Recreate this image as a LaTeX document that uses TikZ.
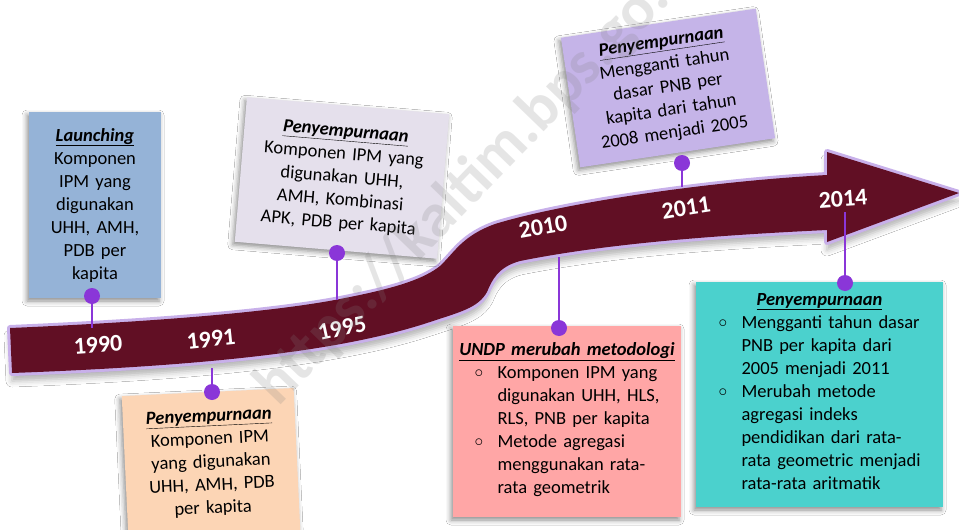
\documentclass[tikz,border=0pt]{standalone}
\usepackage{fontspec}
\setmainfont{Carlito}
\usetikzlibrary{shadows.blur}
\definecolor{ribc}{RGB}{97,15,36}
\definecolor{glowc}{RGB}{200,176,234}
\definecolor{dotc}{RGB}{138,54,216}
\definecolor{bluec}{RGB}{149,179,215}
\definecolor{lavc}{RGB}{229,224,236}
\definecolor{peachc}{RGB}{252,213,181}
\definecolor{pinkc}{RGB}{255,166,166}
\definecolor{tealc}{RGB}{75,209,205}
\definecolor{purpc}{RGB}{197,180,232}
\newcommand\bxfont{\fontsize{18.5}{23}\selectfont}
\newcommand\yrfont{\fontsize{24}{28}\selectfont\bfseries}
\newcommand\ttl[1]{\underline{\textbf{\textit{#1}}}}
\newcommand\bul{\makebox[23pt][l]{\raisebox{1pt}{$\circ$}}}
\begin{document}
\begin{tikzpicture}[x=1pt,y=-1pt,
  notebox/.style={inner sep=0pt, align=center, font=\bxfont,
    blur shadow={shadow xshift=-2pt, shadow yshift=-3pt, shadow blur radius=5pt, shadow opacity=45}},
  yr/.style={text=white, font=\yrfont, inner sep=0pt},
  pin/.style={circle, fill=dotc, minimum size=16pt, inner sep=0pt},
  stem/.style={draw=dotc, line width=2.5pt},
  wm/.style={font=\fontsize{62}{62}\selectfont\bfseries, text=gray, opacity=0.2, inner sep=0pt}
]
\useasboundingbox (0,0) rectangle (959,530);
\fill[white] (0,0) rectangle (959,530);

% ribbon arrow
\fill[ribc,
  blur shadow={shadow xshift=0pt, shadow yshift=-8pt, shadow blur radius=6pt, shadow opacity=30},
  preaction={draw=glowc, line width=6pt, line join=round}]
  (10,328) .. controls (150,322) and (280,312) .. (350,297)
  .. controls (400,287) and (425,278) .. (440,266)
  .. controls (455,252) and (462,236) .. (495,224)
  .. controls (560,204) and (700,182) .. (827,175)
  -- (827,152) -- (959,193) -- (827,242) -- (827,230)
  .. controls (700,236) and (600,245) .. (520,261)
  .. controls (498,267) and (492,280) .. (487,292)
  .. controls (478,308) and (460,312) .. (430,322)
  .. controls (340,352) and (200,366) .. (12,373) -- cycle;

% years
\node[yr, rotate=4]  (y1990) at (98,345)  {1990};
\node[yr, rotate=6]  (y1991) at (211,339) {1991};
\node[yr, rotate=12] (y1995) at (342,328) {1995};
\node[yr, rotate=10] (y2010) at (543,227) {2010};
\node[yr, rotate=9]  (y2011) at (686,208) {2011};
\node[yr, rotate=4]  (y2014) at (843,199) {2014};

% boxes
\node[notebox, fill=bluec, minimum width=132pt, minimum height=186pt, text width=128pt] (b1990) at (95,205)
  {\ttl{Launching}\\Komponen\\IPM yang\\digunakan\\UHH, AMH,\\PDB per\\kapita};
\node[notebox, fill=lavc, minimum width=203pt, minimum height=145pt, text width=200pt, rotate=-4.8] (b1995) at (342,178)
  {\ttl{Penyempurnaan}\\Komponen IPM yang\\digunakan UHH,\\AMH, Kombinasi\\APK, PDB per kapita};
\node[notebox, fill=peachc, minimum width=172pt, minimum height=142pt, text width=168pt, rotate=2.7] (b1991) at (211,463)
  {\ttl{Penyempurnaan}\\Komponen IPM\\yang digunakan\\UHH, AMH, PDB\\per kapita};
\node[notebox, fill=purpc, minimum width=197pt, minimum height=131pt, text width=190pt, rotate=8.5] (b2011) at (668,88)
  {\ttl{Penyempurnaan}\\Mengganti tahun\\dasar PNB per\\kapita dari tahun\\2008 menjadi 2005};
\node[notebox, fill=pinkc, minimum width=228pt, minimum height=191pt, text width=228pt] (b2010) at (567,421.5)
  {\ttl{UNDP merubah metodologi}\\
   \begin{tabular}[t]{@{}l@{}l@{}}
   \bul & Komponen IPM yang\\
        & digunakan UHH, HLS,\\
        & RLS, PNB per kapita\\
   \bul & Metode agregasi\\
        & menggunakan rata-\\
        & rata geometrik
   \end{tabular}};
\node[notebox, fill=tealc, minimum width=247pt, minimum height=225pt, text width=247pt] (b2014) at (819.5,394.5)
  {\ttl{Penyempurnaan}\\
   \begin{tabular}[t]{@{}l@{}l@{}}
   \bul & Mengganti tahun dasar\\
        & PNB per kapita dari\\
        & 2005 menjadi 2011\\
   \bul & Merubah metode\\
        & agregasi indeks\\
        & pendidikan dari rata-\\
        & rata geometric menjadi\\
        & rata-rata aritmatik
   \end{tabular}};

% stems: dot centres and ribbon ends
\coordinate (c1990) at (92,296);  \coordinate (e1990) at (92,328);
\coordinate (c1991) at (212,392); \coordinate (e1991) at (212,368);
\coordinate (c1995) at (337,253); \coordinate (e1995) at (337,300);
\coordinate (c2010) at (559,328); \coordinate (e2010) at (559,257);
\coordinate (c2011) at (682,163); \coordinate (e2011) at (682,187);
\coordinate (c2014) at (845,283); \coordinate (e2014) at (845,212);
\foreach \y in {1990,1991,1995,2010,2011,2014}{
  \draw[stem] (c\y) -- (e\y);
  \node[pin] (p\y) at (c\y) {};
}

% watermark
\node[wm, anchor=base west, rotate=46] (wmark) at (278,408) {https://kaltim.bps.go.id};
\end{tikzpicture}
\end{document}
